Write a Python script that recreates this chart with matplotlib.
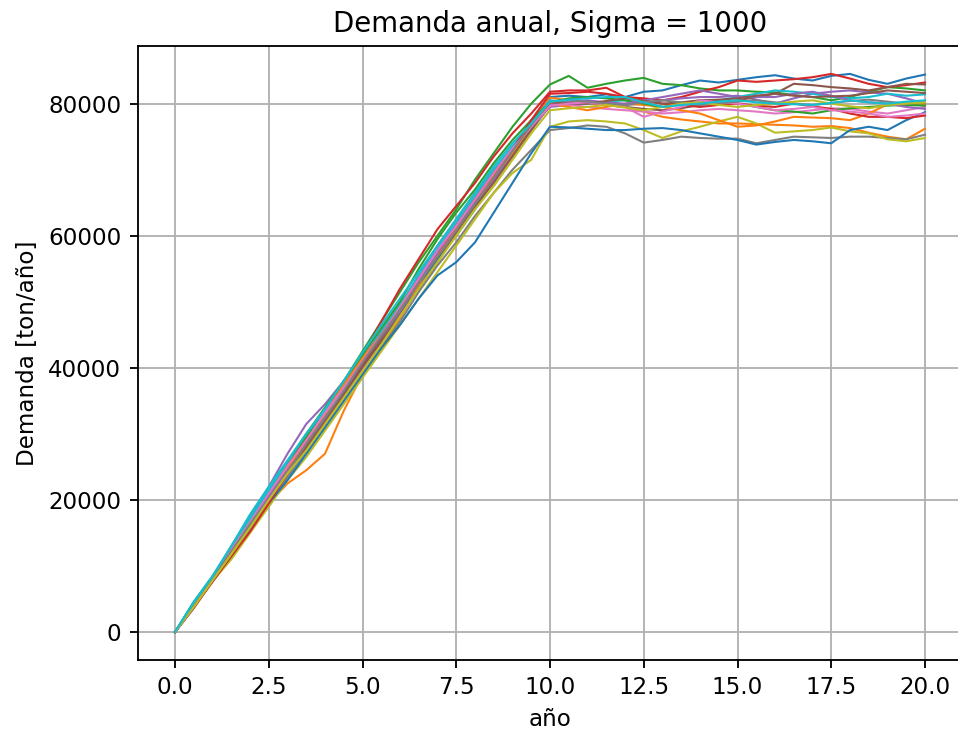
import numpy as np
import matplotlib
matplotlib.use('Agg')
import matplotlib.pyplot as plt

# años cada 0.5
anio = [i * 0.5 for i in range(41)]

# demanda en miles de ton/año, una lista por simulación
d00 = [0, 4.2, 7.9, 12.0, 16.0, 20.0, 24.3, 28.0, 32.0, 36.5, 40.5, 44.0, 48.0, 52.5, 56.5, 60.0, 64.0, 68.5, 72.5, 77.0, 81.0,
       81.2, 81.0, 81.4, 81.0, 81.8, 82.0, 82.8, 83.5, 83.2, 83.6, 84.0, 84.3, 83.8, 83.5, 84.2, 84.5, 83.6, 83.0, 83.8, 84.4]
d01 = [0, 4.0, 8.3, 12.5, 16.2, 19.5, 22.5, 24.5, 27.0, 33.5, 39.0, 43.0, 47.5, 52.5, 57.5, 61.5, 65.5, 69.0, 73.0, 77.0, 80.9,
       80.5, 80.0, 79.8, 79.5, 78.8, 78.0, 77.6, 77.3, 77.0, 77.0, 76.9, 76.8, 76.7, 76.5, 76.6, 76.3, 75.6, 75.0, 74.6, 76.2]
d02 = [0, 4.5, 8.4, 12.5, 17.0, 21.0, 25.0, 29.5, 33.5, 38.0, 42.5, 47.0, 51.5, 56.0, 60.0, 64.0, 68.5, 72.5, 76.5, 80.0, 82.9,
       84.2, 82.4, 83.0, 83.5, 83.9, 83.0, 82.8, 82.3, 82.0, 82.0, 81.8, 81.7, 81.3, 81.0, 80.5, 81.0, 81.8, 82.5, 82.3, 82.0]
d03 = [0, 3.8, 8.0, 12.3, 16.5, 21.0, 25.5, 29.0, 33.0, 37.5, 42.0, 47.0, 52.0, 56.5, 61.0, 64.5, 68.0, 72.0, 75.5, 78.5, 81.8,
       82.0, 82.0, 82.4, 81.0, 80.8, 80.5, 81.0, 81.8, 82.5, 83.5, 83.3, 83.5, 83.7, 84.0, 84.5, 83.8, 83.0, 82.5, 82.8, 83.2]
d04 = [0, 4.3, 8.2, 13.0, 17.5, 22.0, 27.0, 31.5, 34.5, 38.0, 41.5, 45.5, 49.5, 54.0, 58.5, 62.5, 66.5, 70.0, 73.0, 76.5, 79.5,
       79.8, 80.0, 80.2, 79.8, 80.0, 80.5, 80.8, 81.0, 81.0, 81.2, 80.6, 80.0, 80.8, 81.5, 81.8, 82.0, 81.7, 81.5, 80.8, 80.0]
d05 = [0, 3.9, 8.0, 12.0, 16.0, 20.5, 24.5, 28.5, 32.5, 36.0, 40.0, 44.5, 48.5, 53.0, 57.0, 61.0, 65.0, 68.5, 72.5, 76.0, 79.8,
       80.0, 80.2, 79.8, 79.5, 79.2, 79.0, 79.3, 79.8, 80.2, 80.5, 81.0, 81.5, 83.0, 82.8, 82.5, 82.3, 82.0, 82.5, 83.0, 82.9]
d06 = [0, 4.0, 8.1, 12.5, 16.5, 21.0, 25.0, 29.0, 33.0, 37.0, 41.0, 45.0, 49.0, 53.5, 58.0, 62.0, 66.0, 70.0, 73.5, 77.0, 80.0,
       79.8, 79.5, 79.2, 79.0, 78.8, 78.5, 78.7, 79.0, 79.2, 79.0, 78.8, 78.5, 78.7, 79.0, 79.3, 79.2, 78.8, 78.5, 79.0, 79.5]
d07 = [0, 3.6, 7.8, 11.5, 15.5, 19.0, 23.5, 27.5, 31.5, 35.5, 39.5, 43.0, 47.0, 51.5, 55.5, 59.0, 63.0, 66.5, 70.0, 73.0, 76.0,
       76.3, 76.7, 76.5, 75.5, 74.1, 74.5, 75.0, 74.8, 74.7, 74.7, 74.0, 74.5, 75.0, 74.9, 74.8, 75.0, 75.0, 74.8, 74.6, 75.3]
d08 = [0, 3.7, 7.7, 11.0, 15.0, 19.0, 23.0, 26.5, 30.5, 34.5, 38.5, 42.5, 46.5, 50.5, 54.5, 58.5, 62.5, 66.5, 69.5, 71.5, 76.5,
       77.3, 77.5, 77.3, 77.0, 76.0, 74.8, 75.8, 76.5, 77.3, 78.0, 77.0, 75.6, 75.8, 76.0, 76.4, 75.8, 75.5, 74.6, 74.3, 74.8]
d09 = [0, 4.6, 8.5, 13.0, 17.8, 22.0, 26.0, 30.0, 33.5, 37.0, 41.0, 45.5, 49.5, 54.0, 58.0, 62.0, 66.0, 70.0, 73.5, 77.0, 80.5,
       80.2, 80.0, 80.3, 80.5, 80.0, 79.5, 79.8, 80.0, 80.5, 81.0, 81.5, 82.0, 81.8, 81.5, 81.0, 80.8, 81.0, 81.5, 81.2, 81.4]
d10 = [0, 3.8, 7.9, 11.5, 15.5, 19.5, 23.0, 27.0, 31.0, 35.0, 39.0, 43.0, 46.5, 50.5, 54.0, 56.0, 59.0, 63.5, 68.0, 72.5, 76.5,
       76.4, 76.2, 76.0, 76.0, 76.2, 76.3, 76.0, 75.5, 75.0, 74.5, 73.8, 74.2, 74.5, 74.3, 74.0, 76.0, 76.5, 76.0, 77.5, 78.7]
d11 = [0, 4.1, 8.0, 12.5, 16.8, 20.5, 24.8, 29.0, 33.0, 37.5, 41.5, 45.0, 49.0, 53.0, 57.0, 61.0, 64.5, 68.5, 72.5, 76.5, 80.0,
       79.5, 79.0, 79.5, 80.0, 79.8, 79.5, 79.0, 78.5, 77.5, 76.5, 76.7, 77.3, 78.0, 77.9, 77.8, 77.5, 78.5, 79.9, 80.0, 80.0]
d12 = [0, 4.4, 8.3, 12.3, 16.5, 21.0, 25.5, 30.0, 34.0, 38.0, 42.0, 46.0, 50.0, 55.0, 59.5, 63.5, 67.0, 71.0, 74.5, 77.5, 80.2,
       80.8, 81.0, 80.8, 80.5, 80.0, 79.5, 80.0, 80.5, 80.3, 80.0, 79.5, 79.0, 78.8, 78.5, 79.0, 79.3, 79.5, 79.7, 79.8, 79.7]
d13 = [0, 3.7, 7.6, 11.5, 15.2, 19.5, 24.0, 28.0, 32.0, 36.0, 40.5, 45.0, 49.0, 53.5, 57.5, 61.5, 65.5, 69.5, 73.0, 77.5, 81.5,
       81.6, 81.8, 81.5, 81.0, 80.5, 80.0, 79.8, 79.5, 79.8, 80.0, 79.7, 79.5, 80.0, 79.6, 79.2, 78.5, 78.0, 78.0, 77.8, 78.2]
d14 = [0, 4.0, 8.0, 12.0, 16.2, 20.5, 24.5, 28.0, 32.0, 36.0, 40.0, 44.0, 48.5, 53.0, 57.5, 61.5, 65.0, 68.5, 72.0, 76.0, 79.8,
       80.2, 80.5, 80.2, 80.0, 80.5, 81.0, 81.5, 82.0, 81.5, 81.0, 81.0, 81.0, 81.5, 81.8, 81.2, 80.5, 80.2, 80.0, 79.5, 79.2]
d15 = [0, 3.9, 7.9, 12.0, 16.0, 20.0, 24.0, 28.0, 31.8, 36.0, 40.2, 44.0, 48.0, 52.0, 56.0, 60.5, 64.5, 68.0, 72.0, 76.0, 80.2,
       80.0, 80.0, 80.4, 80.8, 80.4, 80.0, 80.2, 80.5, 80.6, 80.8, 81.2, 81.5, 81.2, 81.0, 81.1, 81.2, 81.6, 82.0, 81.8, 81.6]
d16 = [0, 4.1, 8.2, 12.5, 16.8, 21.0, 25.2, 29.0, 33.2, 37.0, 41.0, 45.0, 49.2, 53.5, 57.8, 61.5, 65.5, 69.5, 73.2, 76.5, 79.7,
       80.0, 80.2, 79.8, 79.5, 78.0, 78.8, 79.5, 80.5, 80.2, 80.0, 79.5, 79.0, 79.2, 79.5, 79.0, 78.8, 78.5, 78.0, 78.2, 78.5]
d17 = [0, 4.0, 8.1, 12.2, 16.3, 20.0, 24.2, 28.5, 32.5, 36.5, 40.8, 44.8, 48.8, 52.8, 56.8, 60.8, 64.8, 68.8, 72.8, 76.8, 80.3,
       80.5, 80.3, 80.0, 79.8, 80.2, 80.5, 80.2, 79.8, 80.0, 80.3, 80.5, 80.2, 80.0, 79.8, 80.1, 80.4, 80.6, 80.3, 80.0, 80.2]
d18 = [0, 3.8, 7.8, 11.8, 15.8, 20.0, 24.0, 27.5, 31.5, 35.5, 39.5, 43.5, 47.8, 52.0, 56.0, 60.0, 64.0, 67.5, 71.5, 75.5, 79.0,
       79.3, 79.5, 79.8, 79.4, 79.0, 79.5, 80.0, 80.2, 79.8, 79.5, 79.8, 80.0, 80.3, 80.5, 80.0, 79.6, 79.3, 79.8, 80.0, 80.2]
d19 = [0, 4.5, 8.4, 13.0, 17.2, 21.5, 25.8, 30.0, 33.8, 38.0, 42.3, 46.5, 50.5, 54.5, 58.5, 62.5, 66.5, 70.5, 74.0, 77.0, 80.3,
       80.6, 80.8, 81.0, 81.0, 80.2, 79.5, 79.8, 80.0, 80.3, 80.5, 80.2, 80.0, 79.9, 79.8, 80.1, 80.5, 80.2, 80.0, 80.3, 80.5]

simulaciones = [d00, d01, d02, d03, d04, d05, d06, d07, d08, d09,
                d10, d11, d12, d13, d14, d15, d16, d17, d18, d19]

fig = plt.figure(figsize=(958 / 166, 732 / 166), dpi=166)
ax = fig.add_axes([137.5 / 958, 1 - 660 / 732, 825 / 958, 614 / 732])

for d in simulaciones:
    ax.plot(anio, np.array(d) * 1000, linewidth=0.9)

ax.set_xlim(-1, 21)
ax.set_ylim(-4225, 88725)
ax.set_title('Demanda anual, Sigma = 1000')
ax.set_xlabel('año')
ax.set_ylabel('Demanda [ton/año]')
ax.grid(True)

fig.savefig('out.png', dpi=166)
